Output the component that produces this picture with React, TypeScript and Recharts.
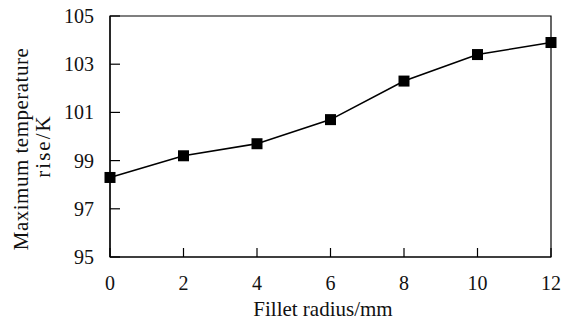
import React from 'react';
import { LineChart, Line, XAxis, YAxis, ReferenceArea } from 'recharts';

const radius = [0, 2, 4, 6, 8, 10, 12];
const tempRise = [98.3, 99.2, 99.7, 100.7, 102.3, 103.4, 103.9];
const xTicks = [0, 2, 4, 6, 8, 10, 12];
const yTicks = [95, 97, 99, 101, 103, 105];

const data = radius.map((r, i) => ({ r, t: tempRise[i] }));

const FONT = '"Liberation Serif", "DejaVu Serif", serif';

const YTick = (props: any) => {
  const { x, y, payload } = props;
  const axisX = x + 16;
  return (
    <g>
      <line x1={axisX} x2={axisX + 10} y1={y} y2={y} stroke="#000" strokeWidth={1.2} />
      <text x={x} y={y} dy="0.35em" textAnchor="end" fontFamily={FONT} fontSize={20} fill="#111">
        {payload.value}
      </text>
    </g>
  );
};

const XTick = (props: any) => {
  const { x, y, payload } = props;
  const axisY = y - 20;
  return (
    <g>
      <line x1={x} x2={x} y1={axisY} y2={axisY - 9} stroke="#000" strokeWidth={1.2} />
      <text x={x} y={axisY + 33} textAnchor="middle" fontFamily={FONT} fontSize={20} fill="#111">
        {payload.value}
      </text>
    </g>
  );
};

const Square = (props: any) => {
  const { cx, cy } = props;
  if (cx == null || cy == null) return null;
  return <rect x={cx - 5.5} y={cy - 5.5} width={11} height={11} fill="#000" />;
};

// two-line rotated axis title
const YLabel = () => (
  <g fontFamily={FONT} fontSize={21} fill="#111">
    <text transform="translate(28,149) rotate(-90)" textAnchor="middle" letterSpacing={0.5}>
      Maximum temperature
    </text>
    <text transform="translate(50,146) rotate(-90)" textAnchor="middle" letterSpacing={2}>
      rise/K
    </text>
  </g>
);

const XLabel = (props: any) => {
  const vb = props.viewBox || {};
  return (
    <text
      x={vb.x + vb.width / 2 - 7.5}
      y={vb.y + 59}
      textAnchor="middle"
      fontFamily={FONT}
      fontSize={21}
      fill="#111"
    >
      Fillet radius/mm
    </text>
  );
};

export default function App() {
  return (
    <div style={{ position: 'absolute', left: 0, top: 0, width: 562, height: 322, background: '#fff' }}>
      <LineChart width={562} height={322} data={data} margin={{ top: 16, right: 11, bottom: 0, left: 0 }}>
        <ReferenceArea x1={0} x2={12} y1={95} y2={105} stroke="#000" strokeWidth={1.2} fill="none" fillOpacity={0} />
        <XAxis
          dataKey="r"
          type="number"
          domain={[0, 12]}
          ticks={xTicks}
          height={65}
          tickLine={false}
          tickSize={0}
          tickMargin={20}
          tick={<XTick />}
          axisLine={{ stroke: '#000', strokeWidth: 1.2 }}
          label={<XLabel />}
        />
        <YAxis
          type="number"
          domain={[95, 105]}
          ticks={yTicks}
          width={110}
          tickLine={false}
          tickSize={0}
          tickMargin={16}
          tick={<YTick />}
          axisLine={{ stroke: '#000', strokeWidth: 1.2 }}
          label={<YLabel />}
        />
        <Line
          dataKey="t"
          stroke="#000"
          strokeWidth={1.6}
          dot={<Square />}
          activeDot={false}
          isAnimationActive={false}
        />
      </LineChart>
    </div>
  );
}
